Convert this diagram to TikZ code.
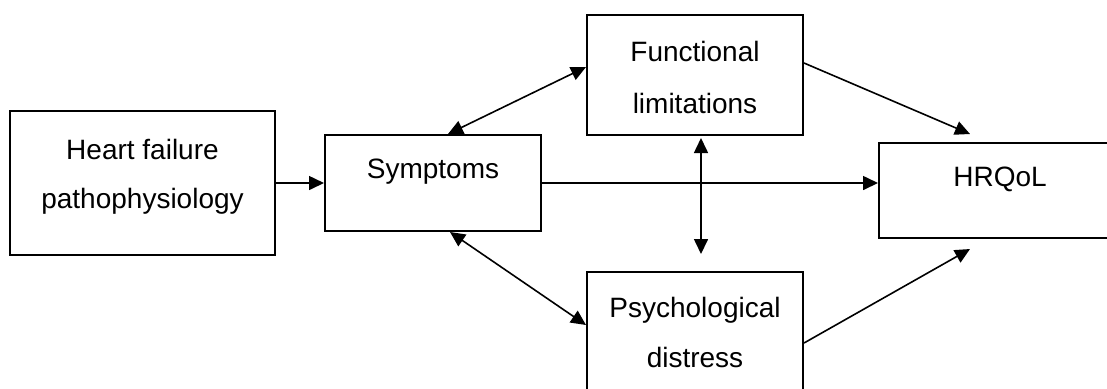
\documentclass[tikz,border=0pt]{standalone}
\usepackage{fontspec}
\setmainfont{Liberation Sans}
\usetikzlibrary{fit,arrows.meta}
\tikzset{
  box/.style={draw=black, line width=1pt, inner sep=0pt, fill=none},
  txt/.style={inner sep=0pt, anchor=base, font=\fontsize{14}{17}\selectfont},
  conn/.style={line width=0.8pt, -{Triangle[length=7.5pt,width=7pt]}},
  biconn/.style={line width=0.8pt, {Triangle[length=7.5pt,width=7pt]}-{Triangle[length=7.5pt,width=7pt]}}
}
\begin{document}
\begin{tikzpicture}[x=0.5pt,y=-0.5pt]
\useasboundingbox (0,0) rectangle (1107,388);
\clip (0,0) rectangle (1107,388);
\fill[white] (0,0) rectangle (1107,388);
% boxes
\node[box, fit={(10,111)(275,255)}] (heart) {};
\node[box, fit={(325,135)(541,231)}] (symp) {};
\node[box, fit={(587,15)(803,135)}] (func) {};
\node[box, fit={(587,272)(803,392)}] (psych) {};
\node[box, fit={(879,143)(1121,238)}] (hrqol) {};
% texts
\node[txt] (heartA) at (142.5,159) {Heart failure};
\node[txt] (heartB) at (142.5,208) {pathophysiology};
\node[txt] (sympT) at (433,178) {Symptoms};
\node[txt] (funcA) at (695,61) {Functional};
\node[txt] (funcB) at (695,113) {limitations};
\node[txt] (psychA) at (695,317) {Psychological};
\node[txt] (psychB) at (695,367) {distress};
\node[txt] (hrqolT) at (1000,186) {HRQoL};
% connectors
\draw[conn] (heart.east) -- (symp.west);
\draw[conn] (symp.east) -- (symp.east -| hrqol.west);
\draw[biconn] ([xshift=7.5pt]symp.north) -- ([yshift=4pt]func.west);
\draw[biconn] ([xshift=8.5pt]symp.south) -- ([yshift=3.5pt]psych.west);
\draw[biconn] ([xshift=3pt,yshift=-1pt]func.south) -- ([xshift=3pt,yshift=8.5pt]psych.north);
\draw[conn] ([yshift=6pt]func.east) -- ([xshift=-15pt,yshift=4pt]hrqol.north);
\draw[conn] ([yshift=-5.5pt]psych.east) -- ([xshift=-15pt,yshift=-5pt]hrqol.south);
\end{tikzpicture}
\end{document}
